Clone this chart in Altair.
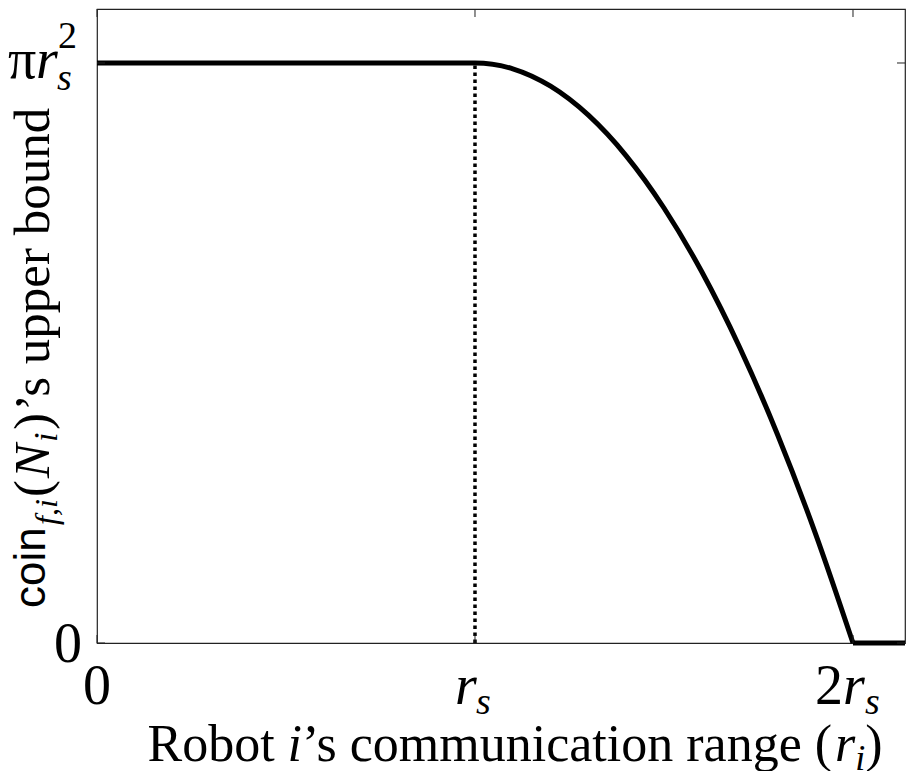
import altair as alt
import pandas as pd

# ---- data (x in units of r_s, y in units of pi*r_s^2) ----
# falling part of the bound, read every 0.1 r_s
fall_r = [0.0, 1.0, 1.1, 1.2, 1.3, 1.4, 1.5, 1.6, 1.7, 1.8, 1.9, 2.0]
fall_v = [1.0, 1.0, 0.99, 0.96, 0.91, 0.84, 0.75, 0.64, 0.51, 0.36, 0.19, 0.0]
# flat zero tail beyond 2 r_s
tail_r = [2.0, 2.1376]
tail_v = [0.0, 0.0]
x_ticks = [0, 1, 2]
y_ticks = [0, 1]
dotted_at = [1.0]

X_DOMAIN = [0, 2.1376]
Y_DOMAIN = [0, 1.0931]
W, H = 808, 634
SERIF = "Liberation Serif"
SANS = "Liberation Sans"

xs = alt.Scale(domain=X_DOMAIN, nice=False, zero=False)
ys = alt.Scale(domain=Y_DOMAIN, nice=False, zero=False)

curve_df = pd.concat([
    pd.DataFrame({"r": fall_r, "v": fall_v, "seg": "fall"}),
    pd.DataFrame({"r": tail_r, "v": tail_v, "seg": "tail"}),
])
curve = alt.Chart(curve_df).mark_line(
    color="black", strokeWidth=5, interpolate="monotone"
).encode(
    x=alt.X("r:Q", scale=xs, axis=None),
    y=alt.Y("v:Q", scale=ys, axis=None),
    detail="seg:N",
)

dotted = alt.Chart(pd.DataFrame({"x": dotted_at})).mark_rule(
    color="black", strokeWidth=3.5, strokeDash=[3.5, 3.5]
).encode(
    x=alt.X("x:Q", scale=xs, axis=None),
    y=alt.Y(datum=0, type="quantitative", scale=ys, axis=None),
    y2=alt.Y2(datum=1),
)

xt_df = pd.DataFrame({"x": x_ticks})
yt_df = pd.DataFrame({"y": y_ticks})
TICK = dict(color="#222222", strokeWidth=1)
bottom_ticks = alt.Chart(xt_df).mark_rule(**TICK).encode(
    x=alt.X("x:Q", scale=xs, axis=None), y=alt.value(H), y2=alt.value(H - 8))
top_ticks = alt.Chart(xt_df).mark_rule(**TICK).encode(
    x=alt.X("x:Q", scale=xs, axis=None), y=alt.value(0), y2=alt.value(8))
left_ticks = alt.Chart(yt_df).mark_rule(**TICK).encode(
    y=alt.Y("y:Q", scale=ys, axis=None), x=alt.value(0), x2=alt.value(8))
right_ticks = alt.Chart(yt_df).mark_rule(**TICK).encode(
    y=alt.Y("y:Q", scale=ys, axis=None), x=alt.value(W - 8), x2=alt.value(W))


def txt(s, x, y, size, italic=False, font=SERIF, angle=0, align="left",
        baseline="alphabetic", dx=0, dy=0):
    kw = dict(font=font, fontSize=size, align=align, baseline=baseline,
              color="black", dx=dx, dy=dy)
    if italic:
        kw["fontStyle"] = "italic"
    if angle:
        kw["angle"] = angle
    return alt.Chart(pd.DataFrame({"t": [s]})).mark_text(**kw).encode(
        text="t:N", x=x, y=y)


def XD(v):
    return alt.X(datum=v, type="quantitative", scale=xs, axis=None)


def YD(v):
    return alt.Y(datum=v, type="quantitative", scale=ys, axis=None)


V = alt.value
texts = [
    # y tick labels
    txt("0", V(-15), YD(0), 56, align="right", baseline="middle", dy=2),
    txt("\u03c0", V(-89), YD(1), 56, dy=15),
    txt("r", V(-61), YD(1), 56, italic=True, dy=15),
    txt("s", V(-40), YD(1), 38, italic=True, dy=27),
    txt("2", V(-39), YD(1), 38, dy=-15),
    # x tick labels
    txt("0", XD(0), V(695), 56, align="center"),
    txt("r", XD(1), V(695), 56, italic=True, dx=-20),
    txt("s", XD(1), V(695), 38, italic=True, dx=1, dy=10),
    txt("2", XD(2), V(695), 56, dx=-38),
    txt("r", XD(2), V(695), 56, italic=True, dx=-10),
    txt("s", XD(2), V(695), 38, italic=True, dx=12, dy=10),
    # x title
    txt("Robot", V(50.5), V(752), 52),
    txt("i", V(190.6), V(752), 52, italic=True),
    txt("\u2019s communication range (", V(205.1), V(752), 52),
    txt("r", V(738.0), V(752), 52, italic=True),
    txt("i", V(758.2), V(761), 36, italic=True),
    txt(")", V(768.2), V(752), 52),
    # y title (rotated, reads bottom to top)
    txt("coin", V(-52), V(599), 44, font=SANS, angle=270),
    txt("f,i", V(-40), V(516), 32, italic=True, angle=270),
    txt("(", V(-48), V(488), 51, angle=270),
    txt("N", V(-48), V(469), 51, italic=True, angle=270),
    txt("i", V(-40), V(433), 34, italic=True, angle=270),
    txt(")", V(-48), V(421), 51, angle=270),
    txt("\u2019s upper bound", V(-48), V(402), 51, angle=270),
]

chart = alt.layer(
    dotted, curve, bottom_ticks, top_ticks, left_ticks, right_ticks, *texts
).properties(
    width=W, height=H,
    autosize=alt.AutoSizeParams(type="none"),
    padding={"left": 89, "top": 1, "right": 1, "bottom": 128},
).configure_view(stroke="#222222", strokeWidth=1.2)

chart.save("out.html", embed_options={"renderer": "svg", "actions": False})
